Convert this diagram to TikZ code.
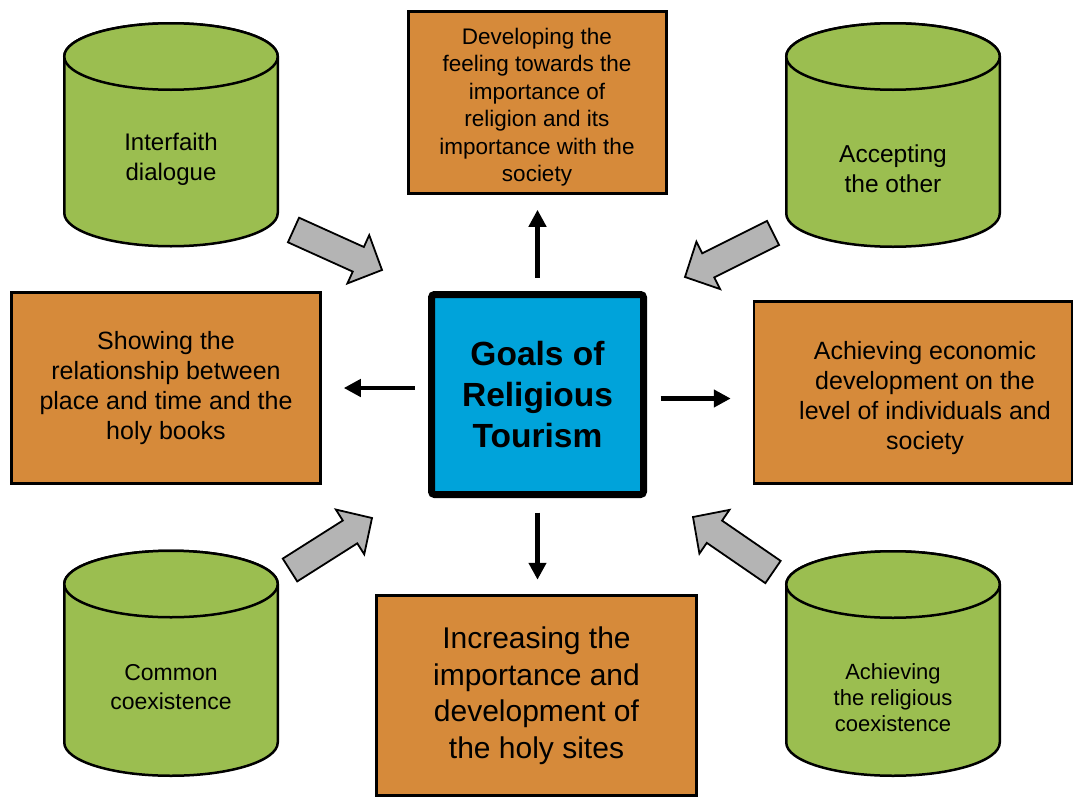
\documentclass[tikz,border=0pt]{standalone}
\usepackage{fontspec}
\setmainfont{Liberation Sans}
\usetikzlibrary{arrows.meta,calc}
\definecolor{boxorange}{RGB}{214,138,58}
\definecolor{cylgreen}{RGB}{155,190,80}
\definecolor{goalblue}{RGB}{0,163,218}
\definecolor{arrowgray}{RGB}{180,180,180}
\tikzset{
  goalbox/.style={draw, line width=2.5pt, fill=boxorange, align=center, inner sep=0pt},
  goalcyl/.style={draw, line width=2.5pt, fill=cylgreen},
  goaltext/.style={align=center, inner sep=0pt},
  goalarrow/.style={line width=4.5pt, -{Triangle[length=17pt,width=17pt]}},
  grayarrow/.style={draw, line width=1.8pt, fill=arrowgray, line join=miter}
}
\begin{document}
\begin{tikzpicture}[x=1pt,y=-1pt]
  \useasboundingbox (0,0) rectangle (1076,798);
  \node[goalbox, line width=7pt, fill=goalblue, rounded corners=3pt, minimum width=212pt, minimum height=200pt,
    font=\fontsize{33.5}{41}\selectfont\bfseries] (goal) at (537.5,394.5) {Goals of\\Religious\\Tourism};
  \node[goalbox, minimum width=258pt, minimum height=182pt] (feeling) at (537.5,102.5) {};
  \node[goaltext, font=\fontsize{22.5}{27.5}\selectfont] (feeling text) at (537,107)
    {Developing the\\feeling towards the\\importance of\\religion and its\\importance with the\\society};
  \node[goalbox, minimum width=309pt, minimum height=191pt, font=\fontsize{25}{30}\selectfont]
    (relation) at (166,388) {Showing the\\relationship between\\place and time and the\\holy books};
  \node[goalbox, minimum width=318pt, minimum height=182pt] (economy) at (913,392.5) {};
  \node[goaltext, font=\fontsize{25}{30}\selectfont] (economy text) at (925,398.5)
    {Achieving economic\\development on the\\level of individuals and\\society};
  \node[goalbox, minimum width=320pt, minimum height=200pt, font=\fontsize{30}{36.5}\selectfont]
    (sites) at (536.5,695.5) {Increasing the\\importance and\\development of\\the holy sites};
  \foreach \cx/\ya/\yb in {171/56.5/213, 893/56.5/213.5, 171/584/742.5, 893/584.5/742.5}{
    \draw[goalcyl] (\cx-106.75,\ya) -- (\cx-106.75,\yb)
      arc[start angle=180, end angle=360, x radius=106.75pt, y radius=33.25pt]
      -- (\cx+106.75,\ya) arc[start angle=0, end angle=180, x radius=106.75pt, y radius=33.25pt] -- cycle;
    \draw[goalcyl] (\cx,\ya) ellipse[x radius=106.75pt, y radius=33.25pt];
  }
  \node[goaltext, font=\fontsize{24}{30}\selectfont] (dialogue) at (171,159) {Interfaith\\dialogue};
  \node[goaltext, font=\fontsize{24.5}{30}\selectfont] (other) at (893,169) {Accepting\\the other};
  \node[goaltext, font=\fontsize{23}{29}\selectfont] (common) at (171,687.5) {Common\\coexistence};
  \node[goaltext, font=\fontsize{22}{26}\selectfont] (religious) at (893,697.5) {Achieving\\the religious\\coexistence};
  \begin{scope}[goalarrow]
    \draw[shorten <=13.5pt, shorten >=15pt] (goal.north) to (goal.north |- feeling.south);
    \draw[shorten <=13.5pt, shorten >=22pt] (goal.west |- relation.east) to (relation.east);
    \draw[shorten <=13.5pt, shorten >=22pt] ([yshift=-4pt]goal.east) to ([yshift=-4pt]goal.east -| economy.west);
    \draw[shorten <=14.5pt, shorten >=14.5pt] (goal.south) to (goal.south |- sites.north);
  \end{scope}
  \coordinate (tailA) at (293.5,230);
  \coordinate (tipA) at (382,270);
  \coordinate (tailB) at (773,233);
  \coordinate (tipB) at (685,277);
  \coordinate (tailC) at (290,570);
  \coordinate (tipC) at (372,518);
  \coordinate (tailD) at (773,572);
  \coordinate (tipD) at (693,517);
  \foreach \t/\h in {tailA/tipA, tailB/tipB, tailC/tipC, tailD/tipD}{
    \coordinate (base) at ($(\h)!26pt!(\t)$);
    \draw[grayarrow] ($(\t)!13.5pt!90:(\h)$) -- ($(base)!13.5pt!90:(\h)$) -- ($(base)!26.5pt!90:(\h)$) -- (\h)
      -- ($(base)!26.5pt!-90:(\h)$) -- ($(base)!13.5pt!-90:(\h)$) -- ($(\t)!13.5pt!-90:(\h)$) -- cycle;
  }
\end{tikzpicture}
\end{document}
